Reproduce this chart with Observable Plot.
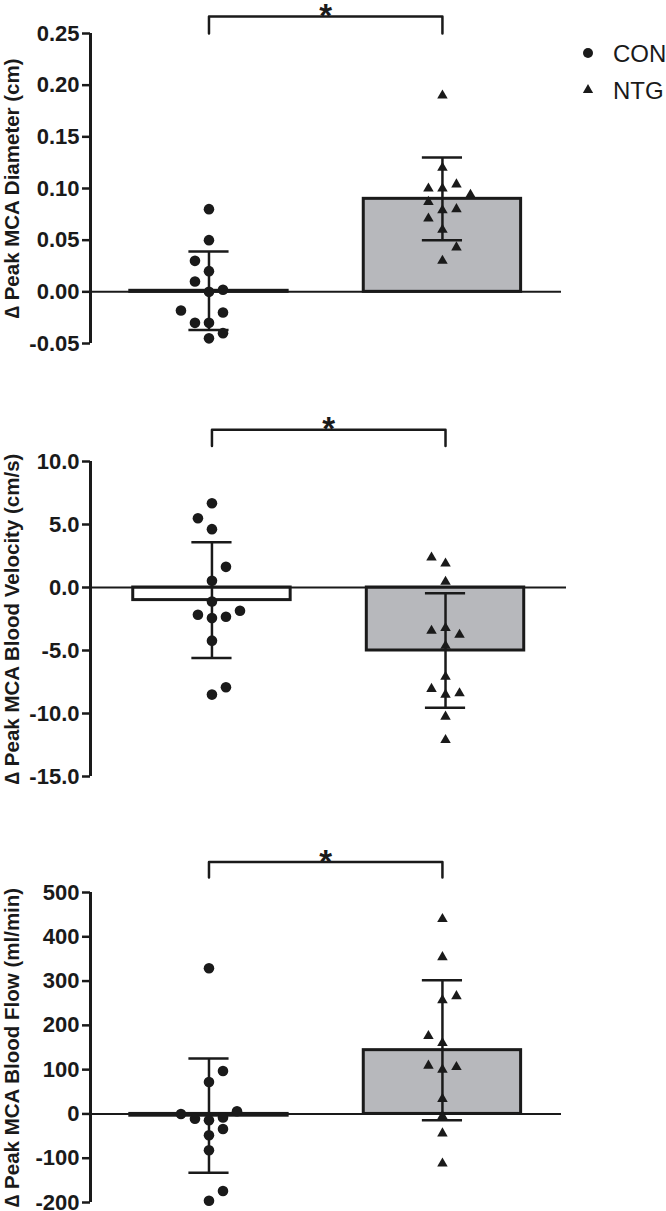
<!DOCTYPE html>
<html><head><meta charset="utf-8">
<script src="https://cdn.jsdelivr.net/npm/d3@7"></script>
<script src="https://cdn.jsdelivr.net/npm/@observablehq/plot@0.6"></script>
<style>
body{margin:0;background:#fff;}
#wrap{position:relative;width:666px;height:1211px;overflow:hidden;font-family:"Liberation Sans",Arial,sans-serif;background:#fff;}
.panel{position:absolute;left:0;}
.lg{position:absolute;font-size:24px;line-height:24px;color:#1a1a1a;white-space:nowrap;}
</style></head><body><div id="wrap"></div>
<script>
const groups = ["CON", "NTG"];
const groupPos = [1, 2];

// Panel 1: diameter
const diameterCON = [0.080, 0.050, 0.030, 0.020, 0.010, 0.000, 0.002, -0.018, -0.020, -0.030, -0.030, -0.040, -0.045];
const diameterCONslot = [0, 0, -1, 0, -1, 0, 1, -2, 1, -1, 0, 1, 0];
const diameterNTG = [0.190, 0.120, 0.100, 0.100, 0.104, 0.094, 0.087, 0.079, 0.080, 0.071, 0.060, 0.043, 0.030];
const diameterNTGslot = [0, 0, -1, 0, 1, 2, -1, 0, 1, -1, 0, 1, 0];
const diameterMean = [0.001, 0.090];
const diameterSD = [0.038, 0.040];
const diameterTicks = [-0.05, 0, 0.05, 0.10, 0.15, 0.20, 0.25];
const diameterBracket = [0.2664, 0.25];

// Panel 2: velocity
const velocityCON = [6.69, 5.50, 4.63, 1.64, 0.53, -1.11, -2.16, -2.43, -2.32, -1.85, -4.22, -8.50, -7.92];
const velocityCONslot = [0, -1, 0, 1, 0, 0, -1, 0, 1, 2, 0, 0, 1];
const velocityNTG = [2.38, 1.90, 0.45, -3.43, -3.22, -3.75, -4.62, -7.08, -8.05, -8.50, -8.40, -10.25, -12.1];
const velocityNTGslot = [-1, 0, 0, -1, 0, 1, 0, 0, -1, 0, 1, 0, 0];
const velocityMean = [-1.0, -5.0];
const velocitySD = [4.6, 4.55];
const velocityTicks = [-15, -10, -5, 0, 5, 10];
const velocityBracket = [12.51, 11.24];

// Panel 3: flow
const flowCON = [329, 97, 72, 0, -11, -14, -8, 6, -34, -48, -82, -196, -174];
const flowCONslot = [0, 1, 0, -2, -1, 0, 1, 2, 1, 0, 0, 0, 1];
const flowNTG = [440, 354, 266, 257, 176, 160, 109, 100, 106, 34, -5, -44, -112];
const flowNTGslot = [0, 0, 1, 0, -1, 0, -1, 0, 1, 0, 0, 0, 0];
const flowMean = [-4, 144];
const flowSD = [129, 158];
const flowTicks = [-200, -100, 0, 100, 200, 300, 400, 500];
const flowBracket = [569, 533.7];

const FONT = '"Liberation Sans", Arial, sans-serif';
const INK = "#1a1a1a";
const STEP = 0.06, HALF = 0.337, CAP = 0.086;

function panel(cfg) {
  const [xmin, xmax] = cfg.xDomain;
  const [ymin, ymax] = cfg.yDomain;
  const bars = groups.map((g, i) => ({g, pos: groupPos[i], mean: cfg.mean[i], sd: cfg.sd[i], fill: i === 0 ? "#ffffff" : "#b7b8bc"}));
  const pts = [
    ...cfg.con.map((v, i) => ({g: "CON", x: groupPos[0] + cfg.conSlot[i] * STEP, y: v})),
    ...cfg.ntg.map((v, i) => ({g: "NTG", x: groupPos[1] + cfg.ntgSlot[i] * STEP, y: v}))
  ];
  const [bTop, bLeg] = cfg.bracket;
  const bracket = [[groupPos[0], bLeg], [groupPos[0], bTop], [groupPos[1], bTop], [groupPos[1], bLeg]];
  return Plot.plot({
    width: 666,
    height: cfg.height,
    marginLeft: 90,
    marginRight: 666 - cfg.xRight,
    marginTop: cfg.marginTop,
    marginBottom: cfg.marginBottom,
    style: {fontFamily: FONT, fontWeight: "bold", background: "transparent", overflow: "visible", color: INK},
    x: {domain: [xmin, xmax], axis: null},
    y: {domain: [ymin, ymax], axis: null},
    marks: [
      Plot.rect(bars, {x1: d => d.pos - HALF, x2: d => d.pos + HALF, y1: 0, y2: "mean", fill: "fill", stroke: INK, strokeWidth: 3}),
      Plot.ruleY([0], {x1: xmin, x2: xmax, stroke: INK, strokeWidth: 2}),
      Plot.ruleX([xmin], {y1: ymin, y2: ymax, stroke: INK, strokeWidth: 3}),
      Plot.axisY(cfg.ticks, {tickSize: 8, tickPadding: 3, tickFormat: cfg.fmt, fontSize: 22, strokeWidth: 2.5, stroke: INK, fill: INK, label: null}),
      Plot.ruleX(bars, {x: "pos", y1: d => d.mean - d.sd, y2: d => d.mean + d.sd, stroke: INK, strokeWidth: 2.5}),
      Plot.ruleY(bars, {y: d => d.mean + d.sd, x1: d => d.pos - CAP, x2: d => d.pos + CAP, stroke: INK, strokeWidth: 2.5}),
      Plot.ruleY(bars, {y: d => d.mean - d.sd, x1: d => d.pos - CAP, x2: d => d.pos + CAP, stroke: INK, strokeWidth: 2.5}),
      Plot.dot(pts.filter(d => d.g === "CON"), {x: "x", y: "y", r: 5.3, fill: INK, stroke: null, symbol: "circle"}),
      Plot.dot(pts.filter(d => d.g === "NTG"), {x: "x", y: "y", r: 3.9, fill: INK, stroke: null, symbol: "triangle"}),
      Plot.line(bracket, {x: d => d[0], y: d => d[1], stroke: INK, strokeWidth: 2.5, strokeLinejoin: "round", strokeLinecap: "round"}),
      Plot.text(["*"], {x: (groupPos[0] + groupPos[1]) / 2, y: bTop, text: d => d, fontSize: 33, lineAnchor: "middle", fill: INK}),
      Plot.text([cfg.label], {frameAnchor: "left", text: d => d, rotate: -90, dx: -78, fontSize: 20.5, textAnchor: "middle", lineAnchor: "middle", fill: INK})
    ]
  });
}

const configs = [
  {top: 0, height: 390, marginTop: 33, marginBottom: 47, xDomain: [0.4925, 2.51], xRight: 561,
   yDomain: [-0.05, 0.25], ticks: diameterTicks, fmt: d => d.toFixed(2),
   con: diameterCON, conSlot: diameterCONslot, ntg: diameterNTG, ntgSlot: diameterNTGslot,
   mean: diameterMean, sd: diameterSD, bracket: diameterBracket, label: "∆ Peak MCA Diameter (cm)"},
  {top: 390, height: 440, marginTop: 71, marginBottom: 54, xDomain: [0.48, 2.518], xRight: 566,
   yDomain: [-15, 10], ticks: velocityTicks, fmt: d => d.toFixed(1),
   con: velocityCON, conSlot: velocityCONslot, ntg: velocityNTG, ntgSlot: velocityNTGslot,
   mean: velocityMean, sd: velocitySD, bracket: velocityBracket, label: "∆ Peak MCA Blood Velocity (cm/s)"},
  {top: 830, height: 380, marginTop: 62, marginBottom: 8, xDomain: [0.4925, 2.51], xRight: 561,
   yDomain: [-200, 500], ticks: flowTicks, fmt: d => d.toFixed(0),
   con: flowCON, conSlot: flowCONslot, ntg: flowNTG, ntgSlot: flowNTGslot,
   mean: flowMean, sd: flowSD, bracket: flowBracket, label: "∆ Peak MCA Blood Flow (ml/min)"}
];

const wrap = document.getElementById("wrap");
for (const cfg of configs) {
  const el = panel(cfg);
  el.classList.add("panel");
  el.style.top = cfg.top + "px";
  wrap.appendChild(el);
}

// Legend
const legendItems = [{label: groups[0], symbol: "circle", top: 42}, {label: groups[1], symbol: "triangle", top: 79}];
for (const it of legendItems) {
  const sym = d3.symbol(it.symbol === "circle" ? d3.symbolCircle : d3.symbolTriangle, it.symbol === "circle" ? Math.PI * 25 : Math.PI * 14.4)();
  const s = document.createElementNS("http://www.w3.org/2000/svg", "svg");
  s.setAttribute("width", 20); s.setAttribute("height", 20);
  s.style.position = "absolute"; s.style.left = "578px"; s.style.top = (it.top + 1) + "px";
  const p = document.createElementNS("http://www.w3.org/2000/svg", "path");
  p.setAttribute("d", sym); p.setAttribute("transform", "translate(10,10)"); p.setAttribute("fill", INK);
  s.appendChild(p);
  wrap.appendChild(s);
  const t = document.createElement("div");
  t.className = "lg"; t.textContent = it.label;
  t.style.left = "613px"; t.style.top = it.top + "px";
  wrap.appendChild(t);
}
</script></body></html>
